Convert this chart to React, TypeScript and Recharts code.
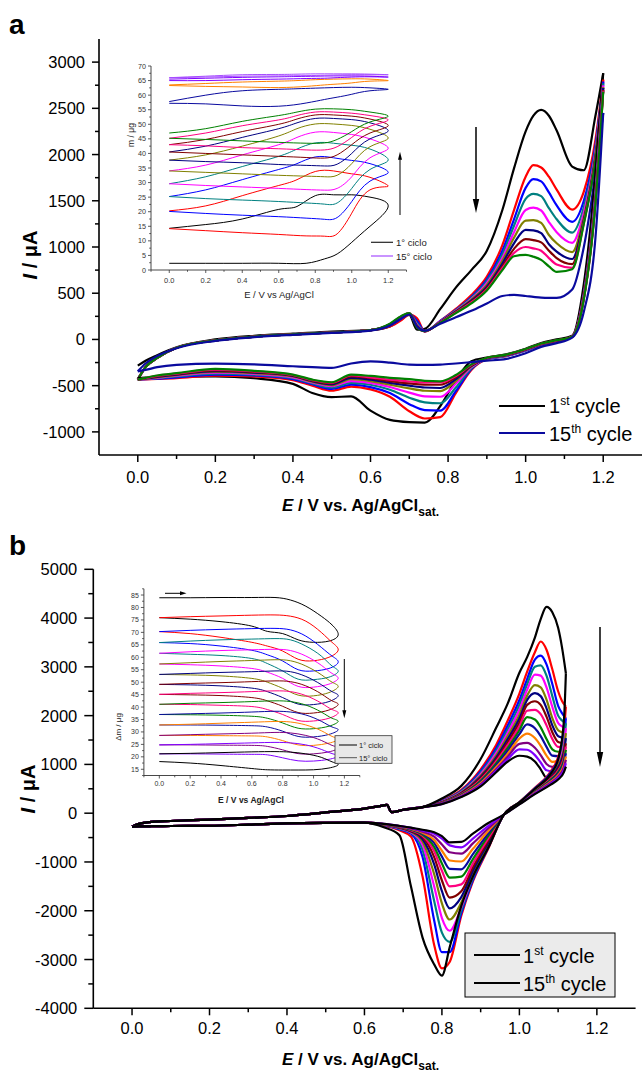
import React from 'react';
import { LineChart, Line, XAxis, YAxis } from 'recharts';

const FONT = '"Liberation Sans", Arial, Helvetica, sans-serif';

// ---------- colours ----------
const C_BLACK = '#000000';
const C_RED = '#ff0000';
const C_BLUE = '#0000ff';
const C_TEAL = '#008080';
const C_MAGENTA = '#ff00ff';
const C_OLIVE = '#808000';
const C_NAVY = '#000080';
const C_MAROON = '#800000';
const C_PINK = '#ff0080';
const C_GREEN = '#008000';
const C_DKBLUE = '#0a0a9e';
const C_ORANGE = '#ff8000';
const C_PURPLE = '#800080';
const C_VIOLET = '#8000ff';
const C_LVIOLET = '#a64dff';

// ---------- panel a : main CV ----------
const A_FWD_V = [0, 0.02, 0.05, 0.1, 0.2, 0.3, 0.4, 0.5, 0.6, 0.65, 0.68, 0.7, 0.72, 0.74, 0.78, 0.82, 0.86, 0.9, 0.94, 0.97, 1.0, 1.02, 1.04, 1.06, 1.08, 1.12, 1.15, 1.18, 1.2];
const A_REV_V = [0, 0.02, 0.05, 0.1, 0.2, 0.3, 0.4, 0.45, 0.5, 0.55, 0.6, 0.65, 0.7, 0.74, 0.78, 0.82, 0.86, 0.9, 0.95, 1.0, 1.04, 1.08, 1.12, 1.15, 1.18, 1.2];

const A_FWD_BLACK = [-283, -230, -170, -85, 0, 40, 62, 85, 100, 140, 220, 265, 105, 115, 330, 560, 750, 960, 1400, 1850, 2250, 2420, 2484, 2420, 2260, 1870, 1830, 2420, 2880];
const A_FWD_RED = [-435, -300, -200, -90, -10, 30, 55, 75, 100, 140, 210, 270, 230, 85, 200, 330, 480, 680, 1020, 1400, 1760, 1885, 1860, 1760, 1620, 1405, 1600, 2160, 2810];
const A_FWD_BLUE = [-435, -300, -200, -90, -10, 30, 55, 75, 100, 150, 225, 275, 200, 88, 200, 320, 460, 650, 960, 1300, 1640, 1735, 1710, 1590, 1450, 1272, 1500, 2100, 2790];
const A_FWD_TEAL = [-435, -300, -200, -90, -10, 30, 55, 75, 100, 155, 235, 278, 175, 90, 195, 315, 450, 630, 920, 1230, 1520, 1575, 1550, 1420, 1300, 1155, 1430, 2060, 2770];
const A_FWD_MAGENTA = [-435, -300, -200, -90, -10, 30, 55, 75, 100, 158, 240, 280, 160, 90, 195, 310, 440, 610, 880, 1160, 1400, 1425, 1395, 1270, 1160, 1045, 1370, 2030, 2750];
const A_FWD_OLIVE = [-435, -300, -200, -90, -10, 30, 55, 75, 100, 160, 242, 280, 150, 90, 190, 305, 430, 590, 850, 1100, 1285, 1290, 1260, 1130, 1040, 945, 1320, 2000, 2730];
const A_FWD_NAVY = [-435, -300, -200, -90, -10, 30, 55, 75, 100, 162, 245, 282, 145, 90, 190, 300, 420, 570, 820, 1040, 1185, 1180, 1150, 1030, 950, 870, 1290, 1980, 2720];
const A_FWD_MAROON = [-435, -300, -200, -90, -10, 30, 55, 75, 100, 164, 248, 282, 140, 90, 185, 295, 410, 555, 790, 980, 1085, 1075, 1050, 960, 880, 815, 1270, 1960, 2700];
const A_FWD_PINK = [-435, -300, -200, -90, -10, 30, 55, 75, 100, 166, 250, 283, 135, 90, 185, 290, 400, 540, 770, 935, 1000, 985, 960, 880, 810, 775, 1260, 1950, 2690];
const A_FWD_GREEN = [-435, -300, -200, -90, -10, 30, 55, 75, 100, 170, 255, 285, 130, 90, 180, 285, 390, 530, 750, 900, 915, 895, 860, 790, 730, 760, 1250, 1940, 2680];
const A_FWD_15 = [-345, -260, -180, -95, -15, 25, 50, 70, 95, 150, 230, 270, 140, 95, 170, 240, 310, 390, 470, 482, 470, 460, 452, 450, 450, 540, 1000, 1800, 2450];

const A_REV_BLACK = [-416, -412, -408, -402, -399, -420, -480, -580, -625, -615, -770, -870, -895, -900, -720, -440, -235, -195, -160, -100, -38, 0, 40, 600, 1800, 2880];
const A_REV_RED = [-435, -432, -428, -420, -391, -400, -440, -500, -555, -510, -540, -620, -777, -855, -840, -580, -330, -215, -180, -120, -60, -25, 30, 500, 1600, 2810];
const A_REV_BLUE = [-435, -430, -425, -410, -380, -390, -430, -485, -535, -490, -515, -580, -700, -765, -770, -560, -320, -212, -178, -118, -58, -22, 30, 490, 1580, 2790];
const A_REV_TEAL = [-435, -428, -420, -400, -370, -380, -420, -475, -520, -470, -490, -545, -630, -680, -690, -520, -310, -210, -176, -116, -56, -20, 30, 480, 1560, 2770];
const A_REV_MAGENTA = [-435, -426, -415, -392, -360, -372, -410, -465, -505, -450, -470, -515, -575, -615, -620, -480, -300, -208, -174, -114, -54, -18, 30, 470, 1540, 2750];
const A_REV_OLIVE = [-435, -424, -410, -385, -350, -365, -400, -458, -495, -430, -450, -490, -530, -555, -560, -450, -290, -206, -172, -112, -52, -16, 30, 460, 1520, 2730];
const A_REV_NAVY = [-435, -422, -405, -380, -342, -358, -395, -452, -485, -415, -435, -470, -500, -520, -525, -430, -285, -204, -170, -110, -50, -14, 30, 450, 1500, 2720];
const A_REV_MAROON = [-435, -420, -400, -375, -335, -352, -390, -446, -475, -400, -420, -450, -475, -488, -490, -410, -280, -202, -168, -108, -48, -12, 30, 445, 1490, 2700];
const A_REV_PINK = [-435, -418, -395, -370, -328, -346, -385, -440, -468, -390, -410, -435, -455, -465, -465, -395, -275, -200, -166, -106, -46, -10, 30, 440, 1480, 2690];
const A_REV_GREEN = [-435, -416, -390, -365, -319, -340, -380, -435, -463, -380, -395, -415, -430, -448, -453, -385, -270, -198, -164, -104, -44, -8, 30, 435, 1470, 2680];
const A_REV_15 = [-345, -330, -300, -275, -262, -270, -290, -300, -308, -260, -237, -250, -272, -275, -272, -260, -245, -230, -210, -150, -80, -40, 20, 300, 1100, 2450];

const A_SERIES = [
  { id: 'a1', color: C_BLACK, fwd: A_FWD_BLACK, rev: A_REV_BLACK },
  { id: 'a2', color: C_RED, fwd: A_FWD_RED, rev: A_REV_RED },
  { id: 'a3', color: C_BLUE, fwd: A_FWD_BLUE, rev: A_REV_BLUE },
  { id: 'a4', color: C_TEAL, fwd: A_FWD_TEAL, rev: A_REV_TEAL },
  { id: 'a5', color: C_MAGENTA, fwd: A_FWD_MAGENTA, rev: A_REV_MAGENTA },
  { id: 'a6', color: C_OLIVE, fwd: A_FWD_OLIVE, rev: A_REV_OLIVE },
  { id: 'a7', color: C_NAVY, fwd: A_FWD_NAVY, rev: A_REV_NAVY },
  { id: 'a8', color: C_MAROON, fwd: A_FWD_MAROON, rev: A_REV_MAROON },
  { id: 'a9', color: C_PINK, fwd: A_FWD_PINK, rev: A_REV_PINK },
  { id: 'a10', color: C_GREEN, fwd: A_FWD_GREEN, rev: A_REV_GREEN },
  { id: 'a15', color: C_DKBLUE, fwd: A_FWD_15, rev: A_REV_15 },
];

// ---------- panel a : inset (mass) ----------
const IA_V = [0, 0.2, 0.4, 0.6, 0.75, 0.85, 0.92, 1.0, 1.1, 1.2, 1.1, 1.0, 0.9, 0.8, 0.7, 0.6, 0.4, 0.2, 0];
const IA_BLACK = [2.3, 2.3, 2.3, 2.3, 2.3, 3.8, 5.5, 9.5, 15, 22, 25, 25.8, 25.8, 25.5, 21.8, 20.8, 17.5, 15.6, 14.3];
const IA_RED = [14.2, 13.5, 12.8, 12.2, 11.7, 11.6, 12.4, 19.5, 27.5, 28.8, 31.8, 33, 34, 33.8, 31, 29, 25.5, 22, 20.3];
const IA_BLUE = [20.1, 19.4, 18.8, 18.3, 17.8, 17.4, 18, 23.5, 30.5, 33.5, 36.5, 37.6, 38.5, 38.8, 36.5, 34.5, 31, 27.5, 25.2];
const IA_TEAL = [25.2, 24.5, 24, 23.5, 23, 22.6, 23, 28, 34.5, 37.8, 41.5, 42.8, 43.5, 43.6, 41.5, 39, 35.5, 32, 29.6];
const IA_MAGENTA = [29.6, 29, 28.5, 28, 27.6, 27.4, 28, 32, 38.5, 41.8, 45, 46.5, 47.2, 47.3, 45.5, 43, 39.5, 36, 34];
const IA_OLIVE = [34, 33.5, 33, 32.5, 32.2, 32, 32.5, 36.5, 42.3, 45.3, 48.3, 49.6, 50.1, 50.1, 48.5, 46, 42.5, 39.5, 37.7];
const IA_NAVY = [37.7, 37.2, 36.8, 36.2, 35.9, 35.7, 36.3, 40, 45, 47.8, 50.5, 51.6, 52, 52, 50.5, 48.5, 45.5, 42.5, 40.5];
const IA_MAROON = [40.5, 40, 39.5, 39, 38.6, 38.4, 39.5, 43, 47, 49.6, 51.8, 52.8, 53.2, 53.2, 51.8, 50, 47.5, 44.8, 43];
const IA_PINK = [43, 42.6, 42, 41.6, 41.2, 41.2, 42.3, 45.5, 49.3, 51.5, 53, 53.8, 54.2, 54.2, 53, 51.5, 49.5, 47, 45.2];
const IA_GREEN = [45.2, 44.8, 44.3, 43.8, 43.5, 43.6, 44.8, 47.5, 50.8, 52.8, 54.2, 55, 55.3, 55.2, 54.2, 53, 51, 48.5, 47];
const IA_NAVY2 = [57.2, 57, 56.3, 56.2, 57.3, 58.5, 59.3, 60.3, 61.5, 62, 62.5, 62.7, 62.6, 62.4, 62.2, 62, 61.5, 60, 57.8];
const IA_ORANGE = [63.3, 63, 62.8, 62.6, 63, 63.5, 63.8, 64.2, 64.8, 65, 65.5, 65.6, 65.5, 65.3, 65, 64.8, 64.5, 64, 63.5];
const IA_PURPLE = [65, 65, 65.3, 65.5, 65.7, 65.8, 66, 66.2, 66.3, 66.2, 66.5, 66.6, 66.6, 66.5, 66.4, 66.3, 66.1, 65.8, 65.5];
const IA_VIOLET = [66, 66.2, 66.5, 66.6, 66.7, 66.8, 66.9, 67, 67, 67, 67.2, 67.3, 67.3, 67.3, 67.2, 67.1, 67, 66.5, 66];

const IA_SERIES = [
  { id: 'ia1', color: C_BLACK, m: IA_BLACK },
  { id: 'ia2', color: C_RED, m: IA_RED },
  { id: 'ia3', color: C_BLUE, m: IA_BLUE },
  { id: 'ia4', color: C_TEAL, m: IA_TEAL },
  { id: 'ia5', color: C_MAGENTA, m: IA_MAGENTA },
  { id: 'ia6', color: C_OLIVE, m: IA_OLIVE },
  { id: 'ia7', color: C_NAVY, m: IA_NAVY },
  { id: 'ia8', color: C_MAROON, m: IA_MAROON },
  { id: 'ia9', color: C_PINK, m: IA_PINK },
  { id: 'ia10', color: C_GREEN, m: IA_GREEN },
  { id: 'ia11', color: C_DKBLUE, m: IA_NAVY2 },
  { id: 'ia12', color: C_ORANGE, m: IA_ORANGE },
  { id: 'ia13', color: C_VIOLET, m: IA_PURPLE },
  { id: 'ia14', color: C_LVIOLET, m: IA_VIOLET },
];

// ---------- panel b : main CV ----------
const B_FWD_V = [0, 0.02, 0.05, 0.1, 0.2, 0.3, 0.4, 0.5, 0.6, 0.64, 0.658, 0.67, 0.7, 0.75, 0.8, 0.85, 0.9, 0.94, 0.97, 1.0, 1.02, 1.04, 1.055, 1.07, 1.085, 1.1, 1.11, 1.12];
const B_REV_V = [0, 0.02, 0.05, 0.1, 0.2, 0.3, 0.4, 0.5, 0.6, 0.65, 0.69, 0.72, 0.75, 0.78, 0.8, 0.82, 0.85, 0.88, 0.92, 0.96, 1.0, 1.04, 1.08, 1.1, 1.115, 1.12];
const B_FWD_LOW = [-275, -215, -180, -160, -130, -95, -58, 15, 95, 145, 170, 20, 70, 125];
const B_REV_LOW = [-275, -272, -268, -263, -258, -235, -208, -198, -195];

const B_FWD_BLACK1 = [300, 560, 1110, 1750, 2250, 2880, 3200, 3600, 3980, 4230, 4120, 3800, 3400, 2869];
const B_FWD_RED = [260, 480, 900, 1400, 1900, 2450, 2900, 3300, 3520, 3350, 2950, 2500, 2300, 2185];
const B_FWD_BLUE = [250, 460, 860, 1330, 1800, 2320, 2750, 3150, 3230, 3050, 2650, 2200, 2050, 1946];
const B_FWD_TEAL = [240, 445, 830, 1280, 1720, 2220, 2640, 3000, 3030, 2820, 2400, 2000, 1900, 1844];
const B_FWD_MAGENTA = [235, 430, 800, 1230, 1650, 2120, 2530, 2840, 2820, 2580, 2180, 1850, 1780, 1742];
const B_FWD_OLIVE = [230, 420, 770, 1180, 1580, 2020, 2410, 2625, 2580, 2330, 1950, 1700, 1660, 1639];
const B_FWD_NAVY = [225, 410, 740, 1140, 1520, 1940, 2320, 2460, 2400, 2150, 1800, 1580, 1550, 1537];
const B_FWD_MAROON = [220, 400, 715, 1100, 1460, 1860, 2220, 2295, 2220, 1980, 1660, 1460, 1440, 1434];
const B_FWD_PINK = [215, 390, 690, 1060, 1400, 1780, 2100, 2120, 2030, 1800, 1520, 1360, 1360, 1366];
const B_FWD_GREEN = [210, 380, 665, 1020, 1340, 1700, 1970, 1920, 1760, 1520, 1310, 1260, 1280, 1298];
const B_FWD_NAVY2 = [205, 370, 640, 980, 1280, 1620, 1820, 1740, 1580, 1360, 1180, 1170, 1200, 1230];
const B_FWD_ORANGE = [200, 360, 615, 940, 1220, 1530, 1630, 1540, 1380, 1180, 1050, 1080, 1120, 1161];
const B_FWD_PURPLE = [195, 350, 590, 900, 1160, 1420, 1440, 1340, 1190, 1010, 950, 990, 1040, 1093];
const B_FWD_VIOLET = [190, 340, 570, 870, 1110, 1310, 1300, 1190, 1040, 880, 860, 920, 975, 1025];
const B_FWD_BLACK15 = [185, 330, 550, 840, 1060, 1178, 1160, 1060, 900, 730, 740, 820, 890, 956];

const B_REV_BLACK1 = [-290, -450, -1500, -2550, -3100, -3330, -2750, -1900, -1300, -700, -30, 220, 500, 800, 1100, 1900, 2869];
const B_REV_RED = [-250, -350, -480, -1300, -2700, -3180, -3050, -2100, -1400, -720, -30, 230, 520, 850, 1150, 1700, 2185];
const B_REV_BLUE = [-245, -330, -420, -900, -2200, -2850, -2850, -2050, -1370, -700, -30, 225, 510, 820, 1100, 1550, 1946];
const B_REV_TEAL = [-240, -320, -400, -750, -1800, -2450, -2640, -1990, -1330, -680, -30, 222, 500, 800, 1060, 1480, 1844];
const B_REV_MAGENTA = [-238, -310, -390, -650, -1500, -2150, -2410, -1930, -1290, -660, -30, 218, 490, 780, 1020, 1400, 1742];
const B_REV_OLIVE = [-236, -300, -380, -580, -1250, -1850, -2180, -1830, -1240, -630, -30, 215, 480, 760, 980, 1330, 1639];
const B_REV_NAVY = [-234, -295, -370, -530, -1050, -1600, -1950, -1720, -1180, -600, -30, 212, 470, 740, 940, 1260, 1537];
const B_REV_MAROON = [-232, -290, -360, -490, -900, -1380, -1730, -1600, -1110, -560, -30, 208, 460, 720, 900, 1190, 1434];
const B_REV_PINK = [-230, -285, -350, -460, -780, -1180, -1500, -1460, -1030, -510, -30, 205, 450, 700, 870, 1140, 1366];
const B_REV_GREEN = [-228, -280, -340, -440, -690, -1030, -1320, -1300, -940, -460, -30, 202, 440, 680, 840, 1090, 1298];
const B_REV_NAVY2 = [-226, -275, -330, -420, -610, -890, -1140, -1150, -840, -410, -30, 198, 430, 660, 810, 1040, 1230];
const B_REV_ORANGE = [-224, -270, -320, -400, -550, -770, -970, -990, -730, -360, -30, 195, 420, 640, 780, 990, 1161];
const B_REV_PURPLE = [-222, -265, -310, -380, -480, -640, -800, -830, -620, -310, -30, 190, 410, 620, 750, 940, 1093];
const B_REV_VIOLET = [-220, -262, -300, -360, -420, -520, -660, -700, -520, -260, -30, 185, 400, 600, 720, 890, 1025];
const B_REV_BLACK15 = [-220, -260, -295, -340, -390, -470, -600, -590, -420, -200, -30, 180, 390, 580, 690, 840, 956];

const B_SERIES = [
  { id: 'b2', color: C_RED, fwd: B_FWD_RED, rev: B_REV_RED },
  { id: 'b3', color: C_BLUE, fwd: B_FWD_BLUE, rev: B_REV_BLUE },
  { id: 'b4', color: C_TEAL, fwd: B_FWD_TEAL, rev: B_REV_TEAL },
  { id: 'b5', color: C_MAGENTA, fwd: B_FWD_MAGENTA, rev: B_REV_MAGENTA },
  { id: 'b6', color: C_OLIVE, fwd: B_FWD_OLIVE, rev: B_REV_OLIVE },
  { id: 'b7', color: C_NAVY, fwd: B_FWD_NAVY, rev: B_REV_NAVY },
  { id: 'b8', color: C_MAROON, fwd: B_FWD_MAROON, rev: B_REV_MAROON },
  { id: 'b9', color: C_PINK, fwd: B_FWD_PINK, rev: B_REV_PINK },
  { id: 'b10', color: C_GREEN, fwd: B_FWD_GREEN, rev: B_REV_GREEN },
  { id: 'b11', color: C_DKBLUE, fwd: B_FWD_NAVY2, rev: B_REV_NAVY2 },
  { id: 'b12', color: C_ORANGE, fwd: B_FWD_ORANGE, rev: B_REV_ORANGE },
  { id: 'b13', color: C_PURPLE, fwd: B_FWD_PURPLE, rev: B_REV_PURPLE },
  { id: 'b14', color: C_VIOLET, fwd: B_FWD_VIOLET, rev: B_REV_VIOLET },
  { id: 'b15', color: C_BLACK, fwd: B_FWD_BLACK15, rev: B_REV_BLACK15 },
  { id: 'b1', color: C_BLACK, fwd: B_FWD_BLACK1, rev: B_REV_BLACK1 },
];

// ---------- panel b : inset (mass change) ----------
const IB_V = [0, 0.2, 0.4, 0.6, 0.75, 0.85, 0.95, 1.05, 1.12, 1.16, 1.1, 1.0, 0.9, 0.8, 0.7, 0.6, 0.4, 0.2, 0];
const IB_BLACK1 = [83.9, 83.9, 84, 84, 84, 83, 80.5, 76.5, 73, 69, 66.5, 66, 67, 69.5, 70.4, 72.5, 74.3, 75.3, 75.9];
const IB_RED = [75.9, 76.3, 76.6, 76.9, 77, 76.5, 74.5, 70, 66, 62.9, 60, 58.6, 59.2, 62.5, 64.5, 66, 68, 69.5, 70.3];
const IB_BLUE = [70.3, 70.8, 71.2, 71.5, 71.6, 71, 68.5, 64, 60.5, 58, 55.5, 54.5, 55, 58.5, 61, 62.8, 64.5, 65.5, 65.9];
const IB_TEAL = [65.9, 66.5, 67, 67.3, 67.5, 67, 64.5, 60.5, 56.5, 54.3, 52, 51, 51.2, 54.5, 57.5, 59.5, 60.7, 61.2, 61.6];
const IB_MAGENTA = [61.6, 62.2, 62.7, 63, 63.2, 62.7, 60.5, 56.8, 53.5, 51.5, 49.2, 48, 48.3, 51.5, 54, 55.5, 56.5, 57, 57.3];
const IB_OLIVE = [57.3, 57.8, 58.3, 58.7, 59, 58.6, 56.5, 53, 50, 48.2, 45.8, 44.5, 44.8, 47.5, 50, 51.5, 52.5, 52.9, 53.1];
const IB_NAVY = [53.1, 53.5, 53.9, 54.2, 54.5, 54.2, 52.3, 49, 46.2, 44.5, 42.2, 41, 41.2, 43.8, 46.2, 47.6, 48.5, 48.9, 49.1];
const IB_MAROON = [49.1, 49.5, 49.8, 50.2, 50.5, 50.2, 48.5, 45.3, 42.5, 41, 38.8, 37.6, 37.8, 40.3, 42.5, 43.8, 44.6, 44.9, 45.1];
const IB_PINK = [45.1, 45.5, 45.8, 46.2, 46.5, 46.2, 44.6, 41.6, 39, 37.6, 35.5, 34.4, 34.6, 37, 39, 40.2, 40.7, 41, 41.1];
const IB_GREEN = [41.1, 41.5, 41.8, 42.2, 42.5, 42.2, 40.8, 38, 35.5, 34.2, 32.3, 31.3, 31.5, 33.6, 35.5, 36.3, 36.7, 36.9, 37];
const IB_NAVY2 = [37, 37.3, 37.6, 38, 38.3, 38, 36.8, 34.3, 32, 30.8, 29, 28, 28.2, 30.3, 32, 32.5, 32.7, 32.8, 32.8];
const IB_ORANGE = [32.8, 33.1, 33.5, 33.9, 34.2, 34, 32.8, 30.5, 28.2, 27, 25.5, 24.6, 24.8, 26.5, 28, 28.4, 28.5, 28.6, 28.6];
const IB_PURPLE = [28.6, 28.9, 29.2, 29.5, 29.8, 29.6, 28.6, 26.6, 24.6, 23.5, 22, 21.2, 21.3, 22.8, 24.2, 24.6, 24.7, 24.8, 24.8];
const IB_VIOLET = [24.8, 25, 25.3, 25.6, 25.8, 25.6, 24.8, 23, 21.3, 20.3, 19, 18.3, 18.4, 19.6, 20.8, 21, 21.1, 21.2, 21.2];
const IB_BLACK15 = [21.2, 21.4, 21.7, 22, 22.1, 21.9, 21.2, 19.8, 18, 16.8, 15.5, 14.8, 14.7, 14.7, 14.8, 15.3, 16.5, 17.5, 18.1];

const IB_SERIES = [
  { id: 'ib1', color: C_BLACK, m: IB_BLACK1 },
  { id: 'ib2', color: C_RED, m: IB_RED },
  { id: 'ib3', color: C_BLUE, m: IB_BLUE },
  { id: 'ib4', color: C_TEAL, m: IB_TEAL },
  { id: 'ib5', color: C_MAGENTA, m: IB_MAGENTA },
  { id: 'ib6', color: C_OLIVE, m: IB_OLIVE },
  { id: 'ib7', color: C_NAVY, m: IB_NAVY },
  { id: 'ib8', color: C_MAROON, m: IB_MAROON },
  { id: 'ib9', color: C_PINK, m: IB_PINK },
  { id: 'ib10', color: C_GREEN, m: IB_GREEN },
  { id: 'ib11', color: C_DKBLUE, m: IB_NAVY2 },
  { id: 'ib12', color: C_ORANGE, m: IB_ORANGE },
  { id: 'ib13', color: C_PURPLE, m: IB_PURPLE },
  { id: 'ib14', color: C_VIOLET, m: IB_VIOLET },
  { id: 'ib15', color: C_BLACK, m: IB_BLACK15 },
];

// ---------- ticks ----------
const MAIN_XTICKS = [0, 0.1, 0.2, 0.3, 0.4, 0.5, 0.6, 0.7, 0.8, 0.9, 1.0, 1.1, 1.2];
const INSET_XTICKS = [-0.1, 0, 0.1, 0.2, 0.3, 0.4, 0.5, 0.6, 0.7, 0.8, 0.9, 1.0, 1.1, 1.2, 1.3];
const A_YTICKS = [-1000, -750, -500, -250, 0, 250, 500, 750, 1000, 1250, 1500, 1750, 2000, 2250, 2500, 2750, 3000];
const B_YTICKS = [-4000, -3500, -3000, -2500, -2000, -1500, -1000, -500, 0, 500, 1000, 1500, 2000, 2500, 3000, 3500, 4000, 4500, 5000];
const IA_YTICKS = [0, 2.5, 5, 7.5, 10, 12.5, 15, 17.5, 20, 22.5, 25, 27.5, 30, 32.5, 35, 37.5, 40, 42.5, 45, 47.5, 50, 52.5, 55, 57.5, 60, 62.5, 65, 67.5, 70];
const IB_YTICKS = [12.5, 15, 17.5, 20, 22.5, 25, 27.5, 30, 32.5, 35, 37.5, 40, 42.5, 45, 47.5, 50, 52.5, 55, 57.5, 60, 62.5, 65, 67.5, 70, 72.5, 75, 77.5, 80, 82.5, 85, 87.5];

const pts = (xs: number[], ys: number[]) => xs.map((x, i) => ({ x, y: ys[i] }));

type TickOpts = { dir: 'x' | 'y'; step: number; major: number; minor: number; gap: number; size: number; color: string; sw: number; fmt: (v: number) => string };
function makeTick(o: TickOpts) {
  return (props: any) => {
    const { x, y, payload } = props;
    const v = Number(payload && payload.value);
    const r = v / o.step;
    const isMajor = Math.abs(r - Math.round(r)) < 1e-6;
    const len = isMajor ? o.major : o.minor;
    if (o.dir === 'y') {
      return (
        <g>
          <line x1={x - len} x2={x} y1={y} y2={y} stroke={o.color} strokeWidth={o.sw} />
          {isMajor ? (
            <text x={x - len - o.gap} y={y} textAnchor="end" dominantBaseline="central" fontSize={o.size} fill={o.color} fontFamily={FONT}>
              {o.fmt(v)}
            </text>
          ) : null}
        </g>
      );
    }
    return (
      <g>
        <line x1={x} x2={x} y1={y} y2={y + len} stroke={o.color} strokeWidth={o.sw} />
        {isMajor ? (
          <text x={x} y={y + o.gap} textAnchor="middle" dominantBaseline="central" fontSize={o.size} fill={o.color} fontFamily={FONT}>
            {o.fmt(v)}
          </text>
        ) : null}
      </g>
    );
  };
}

const fmt1 = (v: number) => v.toFixed(1);
const fmt0 = (v: number) => String(Math.round(v));

const tickAX = makeTick({ dir: 'x', step: 0.2, major: 7, minor: 4, gap: 22, size: 16.5, color: '#000', sw: 1.5, fmt: fmt1 });
const tickAY = makeTick({ dir: 'y', step: 500, major: 7, minor: 4, gap: 7, size: 16.5, color: '#000', sw: 1.5, fmt: fmt0 });
const tickBX = makeTick({ dir: 'x', step: 0.2, major: 7, minor: 4, gap: 20, size: 16.5, color: '#000', sw: 1.5, fmt: fmt1 });
const tickBY = makeTick({ dir: 'y', step: 1000, major: 9, minor: 5, gap: 7, size: 16.5, color: '#000', sw: 1.5, fmt: fmt0 });
const tickIAX = makeTick({ dir: 'x', step: 0.2, major: 3, minor: 1.8, gap: 10, size: 7.5, color: '#333', sw: 0.8, fmt: fmt1 });
const tickIAY = makeTick({ dir: 'y', step: 5, major: 3, minor: 1.8, gap: 2, size: 7.2, color: '#333', sw: 0.8, fmt: fmt0 });
const tickIBX = makeTick({ dir: 'x', step: 0.2, major: 3, minor: 1.8, gap: 8, size: 7, color: '#333', sw: 0.8, fmt: fmt1 });
const tickIBY = makeTick({ dir: 'y', step: 5, major: 3, minor: 1.8, gap: 2, size: 7, color: '#333', sw: 0.8, fmt: fmt0 });

const mainAxis = { stroke: '#000', strokeWidth: 1.6 };
const insetAxis = { stroke: '#333', strokeWidth: 0.9 };

function Arrow({ x, y1, y2, head, hw, sw }: { x: number; y1: number; y2: number; head: number; hw: number; sw: number }) {
  const dir = y2 > y1 ? 1 : -1;
  return (
    <g>
      <line x1={x} x2={x} y1={y1} y2={y2 - dir * head * 0.8} stroke="#000" strokeWidth={sw} />
      <polygon points={`${x - hw},${y2 - dir * head} ${x + hw},${y2 - dir * head} ${x},${y2}`} fill="#000" />
    </g>
  );
}

export default function App() {
  return (
    <div style={{ position: 'absolute', left: 0, top: 0, width: 642, height: 1077, background: '#fff', overflow: 'hidden', fontFamily: FONT }}>
      {/* Panel a main */}
      <div style={{ position: 'absolute', left: 0, top: 0 }}>
        <LineChart width={642} height={500} margin={{ top: 39, right: 0, left: 39, bottom: 20 }}>
          <XAxis type="number" dataKey="x" domain={[-0.1, 1.3]} ticks={MAIN_XTICKS} interval={0} allowDataOverflow height={25} tickSize={0} tickMargin={0} tickLine={false} axisLine={mainAxis} tick={tickAX} />
          <YAxis type="number" domain={[-1250, 3250]} ticks={A_YTICKS} interval={0} allowDataOverflow width={60} tickSize={0} tickMargin={0} tickLine={false} axisLine={mainAxis} tick={tickAY} />
          {A_SERIES.map((s) => (
            <Line key={s.id + 'f'} data={pts(A_FWD_V, s.fwd)} dataKey="y" type="monotone" stroke={s.color} strokeWidth={2.2} dot={false} activeDot={false} isAnimationActive={false} legendType="none" />
          ))}
          {A_SERIES.map((s) => (
            <Line key={s.id + 'r'} data={pts(A_REV_V, s.rev)} dataKey="y" type="monotone" stroke={s.color} strokeWidth={2.2} dot={false} activeDot={false} isAnimationActive={false} legendType="none" />
          ))}
        </LineChart>
      </div>

      {/* Panel a inset */}
      <div style={{ position: 'absolute', left: 100, top: 55 }}>
        <LineChart width={320} height={245} margin={{ top: 11, right: 13.5, left: 21, bottom: 10 }}>
          <XAxis type="number" dataKey="x" domain={[-0.1, 1.3]} ticks={INSET_XTICKS} interval={0} allowDataOverflow height={20} tickSize={0} tickMargin={0} tickLine={false} axisLine={insetAxis} tick={tickIAX} />
          <YAxis type="number" domain={[0, 70]} ticks={IA_YTICKS} interval={0} allowDataOverflow width={30} tickSize={0} tickMargin={0} tickLine={false} axisLine={insetAxis} tick={tickIAY} />
          {IA_SERIES.map((s) => (
            <Line key={s.id} data={pts(IA_V, s.m)} dataKey="y" type="natural" stroke={s.color} strokeWidth={1} dot={false} activeDot={false} isAnimationActive={false} legendType="none" />
          ))}
        </LineChart>
      </div>

      {/* Panel b main */}
      <div style={{ position: 'absolute', left: 0, top: 540 }}>
        <LineChart width={642} height={515} margin={{ top: 29.3, right: 6.4, left: 33.3, bottom: 21.7 }}>
          <XAxis type="number" dataKey="x" domain={[-0.1, 1.3]} ticks={MAIN_XTICKS} interval={0} allowDataOverflow height={25} tickSize={0} tickMargin={0} tickLine={false} axisLine={mainAxis} tick={tickBX} />
          <YAxis type="number" domain={[-4000, 5000]} ticks={B_YTICKS} interval={0} allowDataOverflow width={60} tickSize={0} tickMargin={0} tickLine={false} axisLine={mainAxis} tick={tickBY} />
          {B_SERIES.map((s) => (
            <Line key={s.id + 'f'} data={pts(B_FWD_V, B_FWD_LOW.concat(s.fwd))} dataKey="y" type="monotone" stroke={s.color} strokeWidth={2.2} dot={false} activeDot={false} isAnimationActive={false} legendType="none" />
          ))}
          {B_SERIES.map((s) => (
            <Line key={s.id + 'r'} data={pts(B_REV_V, B_REV_LOW.concat(s.rev))} dataKey="y" type="monotone" stroke={s.color} strokeWidth={2.2} dot={false} activeDot={false} isAnimationActive={false} legendType="none" />
          ))}
        </LineChart>
      </div>

      {/* Panel b inset */}
      <div style={{ position: 'absolute', left: 90, top: 575 }}>
        <LineChart width={290} height={225} margin={{ top: 13.8, right: 20.2, left: 23.9, bottom: 4.5 }}>
          <XAxis type="number" dataKey="x" domain={[-0.1, 1.3]} ticks={INSET_XTICKS} interval={0} allowDataOverflow height={20} tickSize={0} tickMargin={0} tickLine={false} axisLine={insetAxis} tick={tickIBX} />
          <YAxis type="number" domain={[12.5, 87.5]} ticks={IB_YTICKS} interval={0} allowDataOverflow width={30} tickSize={0} tickMargin={0} tickLine={false} axisLine={insetAxis} tick={tickIBY} />
          {IB_SERIES.map((s) => (
            <Line key={s.id} data={pts(IB_V, s.m)} dataKey="y" type="natural" stroke={s.color} strokeWidth={1} dot={false} activeDot={false} isAnimationActive={false} legendType="none" />
          ))}
        </LineChart>
      </div>

      {/* Overlay: labels, legends, arrows */}
      <svg width={642} height={1077} style={{ position: 'absolute', left: 0, top: 0, pointerEvents: 'none' }} fontFamily={FONT}>
        <text x={9} y={34} fontSize={28} fontWeight="bold">a</text>
        <text x={9} y={555} fontSize={28} fontWeight="bold">b</text>

        {/* axis titles panel a */}
        <text transform="translate(37,255) rotate(-90)" textAnchor="middle" fontSize={20} fontWeight="bold">
          <tspan fontStyle="italic">I</tspan> / μA
        </text>
        <text x={282} y={511} fontSize={17} fontWeight="bold">
          <tspan fontStyle="italic">E</tspan> / V vs. Ag/AgCl<tspan dy={5} fontSize={12}>sat.</tspan>
        </text>

        {/* axis titles panel b */}
        <text transform="translate(35,789) rotate(-90)" textAnchor="middle" fontSize={20} fontWeight="bold">
          <tspan fontStyle="italic">I</tspan> / μA
        </text>
        <text x={282} y={1065} fontSize={17} fontWeight="bold">
          <tspan fontStyle="italic">E</tspan> / V vs. Ag/AgCl<tspan dy={5} fontSize={12}>sat.</tspan>
        </text>

        {/* inset a titles */}
        <text transform="translate(134,135) rotate(-90)" textAnchor="middle" fontSize={8.5} fill="#222">m / μg</text>
        <text x={279} y={298} textAnchor="middle" fontSize={9.5} fill="#222">E / V vs Ag/AgCl</text>

        {/* inset b titles */}
        <text transform="translate(121,727) rotate(-90)" textAnchor="middle" fontSize={8} fill="#222">Δm / μg</text>
        <text x={251} y={803} textAnchor="middle" fontSize={8.5} fontWeight="bold" fill="#222">E / V vs Ag/AgCl</text>

        {/* legend panel a */}
        <line x1={499} x2={545} y1={406} y2={406} stroke={C_BLACK} strokeWidth={2} />
        <line x1={499} x2={545} y1={433} y2={433} stroke={C_DKBLUE} strokeWidth={2} />
        <text x={549} y={413} fontSize={20}>1<tspan dy={-8} fontSize={12}>st</tspan><tspan dy={8} fontSize={20}> cycle</tspan></text>
        <text x={549} y={441} fontSize={20}>15<tspan dy={-8} fontSize={12}>th</tspan><tspan dy={8} fontSize={20}> cycle</tspan></text>

        {/* legend panel b */}
        <rect x={465} y={933} width={150} height={64} fill="#ebebeb" stroke="#000" strokeWidth={1} />
        <line x1={474} x2={520} y1={955} y2={955} stroke="#000" strokeWidth={2} />
        <line x1={474} x2={520} y1={983} y2={983} stroke="#000" strokeWidth={2} />
        <text x={523} y={962.5} fontSize={20}>1<tspan dy={-8} fontSize={12}>st</tspan><tspan dy={8} fontSize={20}> cycle</tspan></text>
        <text x={523} y={990.5} fontSize={20}>15<tspan dy={-8} fontSize={12}>th</tspan><tspan dy={8} fontSize={20}> cycle</tspan></text>

        {/* legend inset a */}
        <line x1={371} x2={393} y1={242.3} y2={242.3} stroke="#222" strokeWidth={1.2} />
        <line x1={371} x2={393} y1={256} y2={256} stroke={C_LVIOLET} strokeWidth={1.2} />
        <text x={396} y={245.8} fontSize={9.5} fill="#222">1° ciclo</text>
        <text x={396} y={259.5} fontSize={9.5} fill="#222">15° ciclo</text>

        {/* legend inset b */}
        <rect x={335} y={735.7} width={57} height={27.6} fill="#e8e8e8" stroke="#333" strokeWidth={0.8} />
        <line x1={339} x2={357} y1={745} y2={745} stroke="#000" strokeWidth={1} />
        <line x1={339} x2={357} y1={757.7} y2={757.7} stroke="#555" strokeWidth={1} />
        <text x={359} y={747.8} fontSize={7.5} fill="#222">1° ciclo</text>
        <text x={359} y={760.5} fontSize={7.5} fill="#222">15° ciclo</text>

        {/* arrows */}
        <Arrow x={476} y1={127} y2={213} head={14} hw={3.2} sw={1.5} />
        <Arrow x={600} y1={627} y2={767} head={15} hw={3.2} sw={1.5} />
        <Arrow x={400} y1={215} y2={151.7} head={8} hw={2} sw={1} />
        <Arrow x={344.3} y1={659} y2={718.3} head={8} hw={2} sw={1} />
        <line x1={165} x2={181} y1={593.3} y2={593.3} stroke="#000" strokeWidth={1} />
        <polygon points="180,591.3 180,595.3 186.5,593.3" fill="#000" />
      </svg>
    </div>
  );
}
